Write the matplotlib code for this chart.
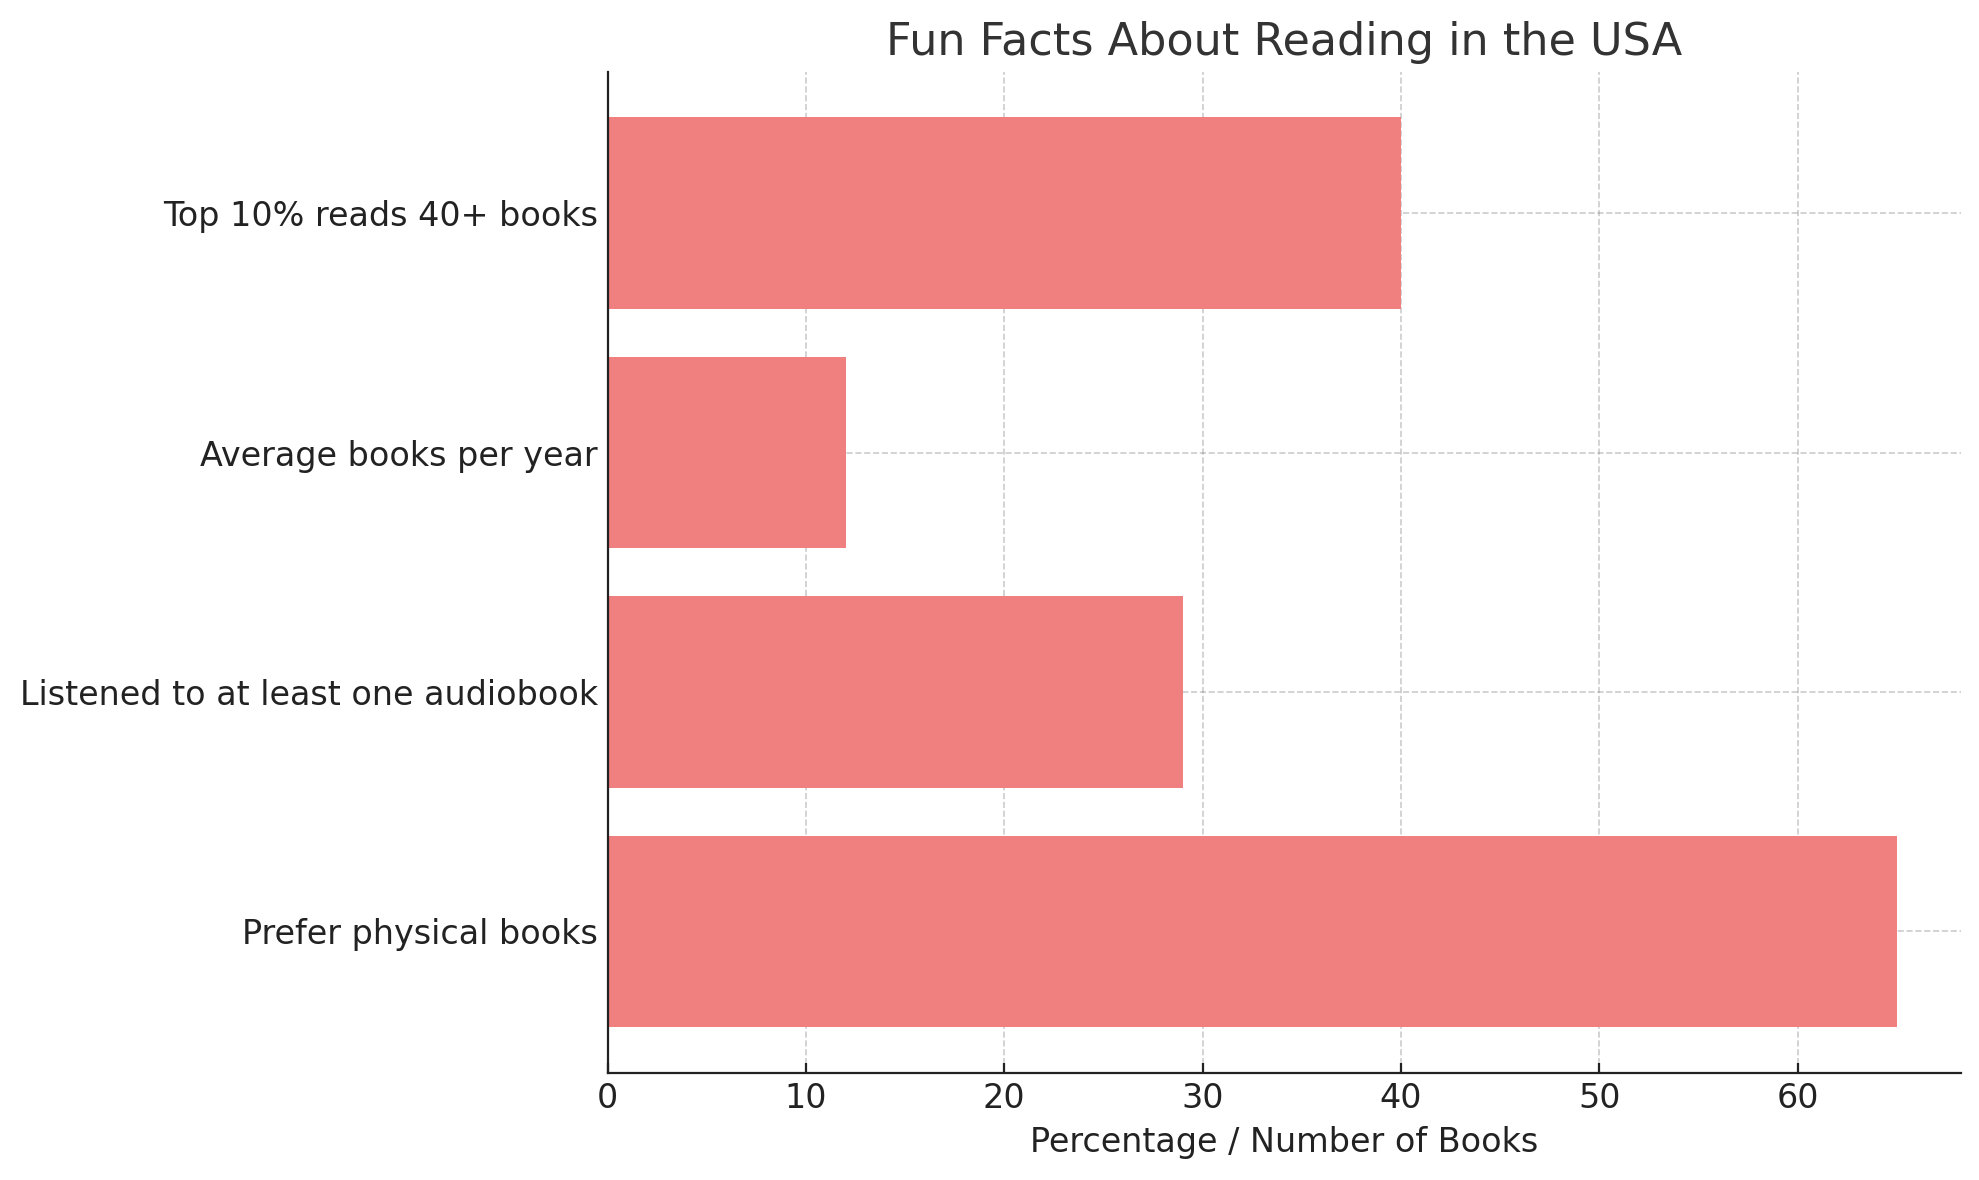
import matplotlib.pyplot as plt

facts = ['Prefer physical books', 'Listened to at least one audiobook',
         'Average books per year', 'Top 10% reads 40+ books']
values = [65, 29, 12, 40]

fig, ax = plt.subplots(figsize=(9.895, 5.9), dpi=200)
fig.subplots_adjust(left=0.307, right=0.991, bottom=0.091, top=0.939)

ax.barh(facts, values, color='lightcoral')
ax.set_title('Fun Facts About Reading in the USA', fontsize=16, color='#333333')
ax.set_xlabel('Percentage / Number of Books', fontsize=12, color='#222222')
ax.tick_params(axis='both', labelsize=12, direction='in', colors='#222222')
ax.grid(True, linestyle='--', color='gray', alpha=0.4, linewidth=0.6)
ax.set_axisbelow(True)
ax.spines['top'].set_visible(False)
ax.spines['right'].set_visible(False)
for s in ('left', 'bottom'):
    ax.spines[s].set_color('#222222')

plt.savefig('out.png')
